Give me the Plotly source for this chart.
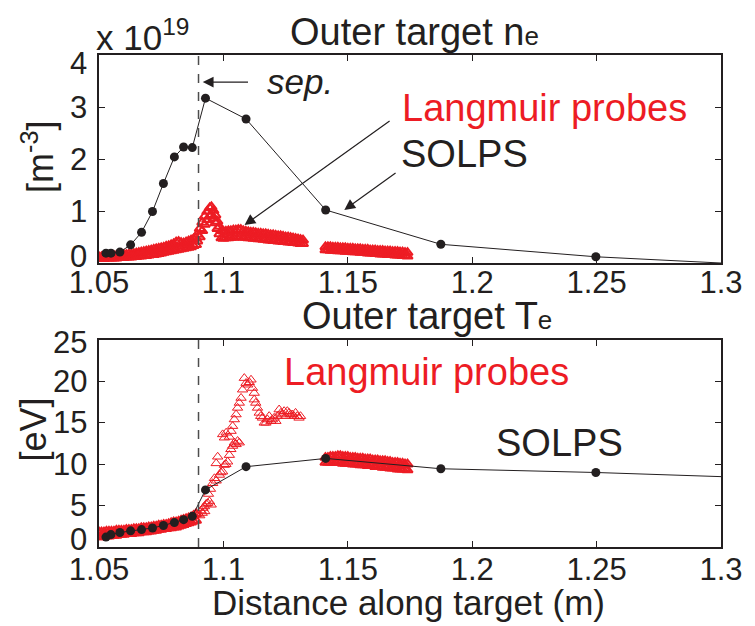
import plotly.graph_objects as go

# ---------------- data ----------------
SEP_X = 1.09

# SOLPS (black) grid and profiles
solps_x = [1.0528, 1.0548, 1.0584, 1.0627, 1.0671, 1.0715, 1.0759, 1.0803,
           1.0840, 1.0875, 1.0928, 1.1091, 1.1411, 1.1874, 1.2497, 1.3000]
solps_ne = [0.19, 0.19, 0.21, 0.35, 0.59, 0.99, 1.53, 2.04,
            2.23, 2.22, 3.17, 2.77, 1.02, 0.36, 0.12, 0.00]
solps_te = [1.2, 1.5, 1.75, 1.95, 2.1, 2.3, 2.6, 2.95,
            3.3, 3.7, 6.9, 9.7, 10.7, 9.45, 9.0, 8.5]

# Langmuir probes, segment A (private flux region side)
lp_x_a = [1.050, 1.051, 1.052, 1.053, 1.054, 1.055, 1.056, 1.057, 1.058, 1.059,
          1.060, 1.061, 1.062, 1.063, 1.064, 1.065, 1.066, 1.067, 1.068, 1.069,
          1.070, 1.071, 1.072, 1.073, 1.074, 1.075, 1.076, 1.077, 1.078, 1.079,
          1.080, 1.081, 1.082, 1.083, 1.084, 1.085, 1.086, 1.087, 1.088, 1.089]
lp_ne_a_hi = [0.12, 0.12, 0.13, 0.13, 0.13, 0.14, 0.14, 0.14, 0.15, 0.15,
              0.16, 0.16, 0.17, 0.17, 0.18, 0.19, 0.20, 0.21, 0.22, 0.23,
              0.24, 0.25, 0.26, 0.27, 0.28, 0.29, 0.30, 0.32, 0.33, 0.35,
              0.37, 0.40, 0.41, 0.39, 0.38, 0.40, 0.42, 0.44, 0.46, 0.48]
lp_ne_a_lo = [0.08, 0.08, 0.08, 0.09, 0.09, 0.09, 0.09, 0.09, 0.10, 0.10,
              0.10, 0.11, 0.11, 0.11, 0.12, 0.12, 0.13, 0.13, 0.14, 0.14,
              0.15, 0.16, 0.16, 0.17, 0.18, 0.19, 0.20, 0.21, 0.22, 0.23,
              0.24, 0.25, 0.26, 0.27, 0.28, 0.29, 0.30, 0.31, 0.33, 0.35]
lp_te_a_hi = [1.8, 1.8, 1.8, 1.9, 1.9, 1.9, 1.9, 2.0, 2.0, 2.0,
              2.0, 2.1, 2.1, 2.1, 2.2, 2.2, 2.2, 2.3, 2.3, 2.3,
              2.4, 2.4, 2.5, 2.5, 2.6, 2.6, 2.7, 2.7, 2.8, 2.9,
              3.0, 3.0, 3.1, 3.2, 3.3, 3.4, 3.5, 3.6, 3.8, 4.0]
lp_te_a_lo = [1.2, 1.2, 1.3, 1.3, 1.3, 1.4, 1.4, 1.4, 1.5, 1.5,
              1.5, 1.6, 1.6, 1.6, 1.7, 1.7, 1.7, 1.8, 1.8, 1.8,
              1.9, 1.9, 2.0, 2.0, 2.1, 2.1, 2.2, 2.2, 2.3, 2.3,
              2.4, 2.4, 2.5, 2.6, 2.7, 2.8, 2.9, 3.0, 3.1, 3.2]

# Langmuir probes, density peak near the separatrix
lp_x_pk = [1.0895, 1.0905, 1.0915, 1.0925, 1.0935, 1.0945, 1.0952, 1.0960,
           1.0968, 1.0976, 1.0984, 1.0992]
lp_ne_pk_hi = [0.55, 0.66, 0.78, 0.90, 0.99, 1.06, 1.08, 1.01, 0.92, 0.80, 0.70, 0.62]
lp_ne_pk_lo = [0.42, 0.50, 0.62, 0.74, 0.83, 0.90, 0.93, 0.86, 0.77, 0.66, 0.56, 0.48]

# Langmuir probes, segment B (ne)
lp_x_b = [1.100, 1.101, 1.102, 1.103, 1.104, 1.105, 1.106, 1.107, 1.108, 1.109,
          1.110, 1.111, 1.112, 1.113, 1.114, 1.115, 1.116, 1.117, 1.118, 1.119,
          1.120, 1.121, 1.122, 1.123, 1.124, 1.125, 1.126, 1.127, 1.128, 1.129,
          1.130, 1.131, 1.132]
lp_ne_b_hi = [0.61, 0.61, 0.62, 0.62, 0.63, 0.63, 0.64, 0.64, 0.62, 0.61,
              0.60, 0.59, 0.59, 0.58, 0.57, 0.57, 0.56, 0.56, 0.55, 0.54,
              0.54, 0.53, 0.52, 0.52, 0.51, 0.50, 0.50, 0.49, 0.48, 0.47,
              0.46, 0.45, 0.44]
lp_ne_b_lo = [0.47, 0.48, 0.48, 0.49, 0.49, 0.50, 0.50, 0.50, 0.49, 0.49,
              0.48, 0.48, 0.47, 0.47, 0.46, 0.46, 0.45, 0.45, 0.44, 0.44,
              0.43, 0.43, 0.42, 0.42, 0.41, 0.41, 0.40, 0.40, 0.39, 0.39,
              0.38, 0.37, 0.37]

# Langmuir probes, Te scattered points across the separatrix
lp_x_te_pk = [1.0900, 1.0905, 1.0910, 1.0915, 1.0918, 1.0924, 1.0925, 1.0931, 1.0937, 1.0944,
              1.0951, 1.0940, 1.0948, 1.0957, 1.0964, 1.0971, 1.0984, 1.0990, 1.0997, 1.1004,
              1.1010, 1.1017, 1.1024, 1.1030, 1.1037, 1.1044, 1.1051, 1.1057, 1.1064, 1.0971,
              1.0977, 1.0997, 1.1004, 1.1011, 1.1024, 1.1031, 1.1037, 1.1044, 1.1051, 1.1057,
              1.1064, 1.1071, 1.1077, 1.1084, 1.1091, 1.1098, 1.1104, 1.1111, 1.1117, 1.1124,
              1.1124, 1.1130, 1.1137, 1.1144, 1.1150, 1.1157, 1.1164, 1.1171, 1.1177, 1.1184,
              1.1191, 1.1197, 1.1204, 1.1211, 1.1217, 1.1224, 1.1231, 1.1237, 1.1244, 1.1250,
              1.1257, 1.1264, 1.1270, 1.1277, 1.1284, 1.1290, 1.1297, 1.1304, 1.1310]
lp_te_pk = [4.0, 3.8, 4.4, 4.1, 4.7, 4.9, 4.3, 5.2, 5.3, 5.5,
            5.1, 6.4, 7.0, 7.7, 8.3, 8.0, 8.7, 9.0, 9.1, 9.9,
            10.0, 10.3, 11.1, 11.8, 12.2, 12.6, 12.4, 12.8, 12.6, 10.1,
            10.9, 13.6, 13.2, 13.8, 13.3, 14.0, 14.6, 15.4, 16.0, 16.8,
            17.4, 18.0, 19.0, 20.4, 19.8, 19.6, 19.9, 20.2, 19.2, 18.6,
            17.8, 17.4, 16.8, 16.2, 15.8, 15.6, 15.0, 15.0, 15.4, 15.8,
            15.2, 15.4, 15.6, 15.2, 15.8, 16.6, 16.2, 16.0, 16.4, 15.8,
            16.4, 16.2, 16.0, 16.0, 15.8, 16.2, 15.8, 15.6, 15.8]

# Langmuir probes, segment C (far SOL)
lp_x_c = [1.141, 1.142, 1.143, 1.144, 1.145, 1.146, 1.147, 1.148, 1.149, 1.150,
          1.151, 1.152, 1.153, 1.154, 1.155, 1.156, 1.157, 1.158, 1.159, 1.160,
          1.161, 1.162, 1.163, 1.164, 1.165, 1.166, 1.167, 1.168, 1.169, 1.170,
          1.171, 1.172, 1.173, 1.174]
lp_ne_c_hi = [0.31, 0.31, 0.31, 0.30, 0.30, 0.30, 0.29, 0.29, 0.29, 0.28,
              0.28, 0.28, 0.27, 0.27, 0.27, 0.26, 0.26, 0.26, 0.25, 0.25,
              0.25, 0.24, 0.24, 0.24, 0.23, 0.23, 0.23, 0.22, 0.22, 0.22,
              0.21, 0.21, 0.20, 0.20]
lp_ne_c_lo = [0.25, 0.25, 0.24, 0.24, 0.24, 0.23, 0.23, 0.23, 0.22, 0.22,
              0.22, 0.21, 0.21, 0.21, 0.20, 0.20, 0.20, 0.19, 0.19, 0.19,
              0.18, 0.18, 0.17, 0.17, 0.17, 0.16, 0.16, 0.16, 0.15, 0.15,
              0.15, 0.14, 0.14, 0.13]
lp_te_c_hi = [10.8, 10.8, 10.9, 10.9, 10.9, 11.0, 11.0, 10.9, 10.9, 10.9,
              10.8, 10.8, 10.8, 10.7, 10.7, 10.7, 10.6, 10.6, 10.6, 10.5,
              10.5, 10.5, 10.4, 10.4, 10.4, 10.3, 10.3, 10.2, 10.2, 10.2,
              10.1, 10.1, 10.0, 10.0]
lp_te_c_lo = [10.2, 10.2, 10.2, 10.2, 10.2, 10.2, 10.2, 10.1, 10.1, 10.1,
              10.1, 10.0, 10.0, 10.0, 9.9, 9.9, 9.9, 9.8, 9.8, 9.8,
              9.7, 9.7, 9.7, 9.6, 9.6, 9.6, 9.5, 9.5, 9.5, 9.4,
              9.4, 9.4, 9.4, 9.3]

x_ticks = [1.05, 1.1, 1.15, 1.2, 1.25, 1.3]
x_ticklabels = ["1.05", "1.1", "1.15", "1.2", "1.25", "1.3"]
ne_ticks = [0, 1, 2, 3, 4]
te_ticks = [0, 5, 10, 15, 20, 25]

# ---------------- style ----------------
RED = "#ed1c24"
INK = "#231f20"
FONT = "Liberation Sans, Arial, sans-serif"
TICK_FONT = dict(family=FONT, size=31, color=INK)

ne_band_x = lp_x_a + lp_x_a + lp_x_pk + lp_x_pk + lp_x_b + lp_x_b + lp_x_c + lp_x_c
ne_band_y = (lp_ne_a_hi + lp_ne_a_lo + lp_ne_pk_hi + lp_ne_pk_lo +
             lp_ne_b_hi + lp_ne_b_lo + lp_ne_c_hi + lp_ne_c_lo)
te_band_x = lp_x_a + lp_x_a + lp_x_c + lp_x_c
te_band_y = lp_te_a_hi + lp_te_a_lo + lp_te_c_hi + lp_te_c_lo

tri_dense = dict(symbol="triangle-up-open", size=9, color=RED, line=dict(color=RED, width=2))
tri = dict(symbol="triangle-up-open", size=9, color=RED, line=dict(color=RED, width=1))
dot = dict(symbol="circle", size=9, color=INK)

fig = go.Figure()
fig.add_trace(go.Scatter(x=ne_band_x, y=ne_band_y, mode="markers", marker=tri_dense,
                         xaxis="x", yaxis="y", showlegend=False))
fig.add_trace(go.Scatter(x=solps_x, y=solps_ne, mode="lines",
                         line=dict(color=INK, width=1), xaxis="x", yaxis="y", showlegend=False))
fig.add_trace(go.Scatter(x=solps_x[:-1], y=solps_ne[:-1], mode="markers", marker=dot,
                         xaxis="x", yaxis="y", showlegend=False))
fig.add_trace(go.Scatter(x=te_band_x, y=te_band_y, mode="markers", marker=tri_dense,
                         xaxis="x2", yaxis="y2", showlegend=False))
fig.add_trace(go.Scatter(x=lp_x_te_pk, y=lp_te_pk, mode="markers", marker=tri,
                         xaxis="x2", yaxis="y2", showlegend=False))
fig.add_trace(go.Scatter(x=solps_x, y=solps_te, mode="lines",
                         line=dict(color=INK, width=1), xaxis="x2", yaxis="y2", showlegend=False))
fig.add_trace(go.Scatter(x=solps_x[:-1], y=solps_te[:-1], mode="markers", marker=dot,
                         xaxis="x2", yaxis="y2", showlegend=False))

axis_common = dict(showline=True, linecolor=INK, linewidth=1.5, mirror="allticks",
                   ticks="inside", ticklen=6, tickwidth=1, tickcolor=INK,
                   showgrid=False, zeroline=False, tickfont=TICK_FONT)

fig.update_layout(
    width=755, height=626,
    margin=dict(l=99, r=32, t=55, b=79),
    paper_bgcolor="white", plot_bgcolor="white",
    font=dict(family=FONT, color=INK),
    xaxis=dict(domain=[0, 1], anchor="y", range=[1.05, 1.3], tickvals=x_ticks,
               ticktext=x_ticklabels, ticklabelstandoff=-9, **axis_common),
    yaxis=dict(domain=[0.5772, 1], anchor="x", range=[0, 4], tickvals=ne_ticks,
               showticklabels=False, **axis_common),
    xaxis2=dict(domain=[0, 1], anchor="y2", range=[1.05, 1.3], tickvals=x_ticks,
                ticktext=x_ticklabels, ticklabelstandoff=-6, **axis_common),
    yaxis2=dict(domain=[0, 0.4207], anchor="x2", range=[0, 25], tickvals=te_ticks,
                showticklabels=False, **axis_common),
)

for yr in ("y", "y2"):
    xr = "x" if yr == "y" else "x2"
    fig.add_shape(type="line", xref=xr, yref=yr + " domain", x0=SEP_X, x1=SEP_X, y0=0, y1=1,
                  line=dict(color="#4d4d4d", width=1.5, dash="dash"))

big = dict(family=FONT, size=38, color=INK)
ann = []
# y tick labels (end labels nudged inward, as in the reference)
for xr, yr, vals in (("x domain", "y", ne_ticks), ("x2 domain", "y2", te_ticks)):
    for v in vals:
        shift = 7 if v == vals[0] else (-8 if (yr == "y" and v == vals[-1]) else (-2 if v == vals[-1] else 0))
        ann.append(dict(text=str(v), xref=xr, yref=yr, x=0, y=v, xanchor="right", yanchor="middle",
                        xshift=-10, yshift=shift, showarrow=False, font=TICK_FONT))
# titles
ann.append(dict(text="Outer target n<span style='font-size:26px'>e</span>", xref="x domain", yref="y domain",
                x=0.508, y=1, xanchor="center", yanchor="bottom", yshift=0, showarrow=False, font=big))
ann.append(dict(text="Outer target T<span style='font-size:26px'>e</span>", xref="x2 domain", yref="y2 domain",
                x=0.528, y=1, xanchor="center", yanchor="bottom", yshift=1, showarrow=False, font=big))
ann.append(dict(text="x 10<sup>19</sup>", xref="x domain", yref="y domain", x=-0.008, y=1,
                xanchor="left", yanchor="bottom", yshift=-4, showarrow=False,
                font=dict(family=FONT, size=35, color=INK)))
# y titles
ann.append(dict(text="[m<sup>-3</sup>]", xref="paper", yref="y domain", x=-0.098, y=0.51,
                xanchor="center", yanchor="middle", textangle=-90, showarrow=False,
                font=dict(family=FONT, size=36, color=INK)))
ann.append(dict(text="[eV]", xref="paper", yref="y2 domain", x=-0.105, y=0.566,
                xanchor="center", yanchor="middle", textangle=-90, showarrow=False,
                font=dict(family=FONT, size=36, color=INK)))
# x title
ann.append(dict(text="Distance along target (m)", xref="x2 domain", yref="paper", x=0.497, y=0,
                xanchor="center", yanchor="top", yshift=-34, showarrow=False,
                font=dict(family=FONT, size=35, color=INK)))
# top panel labels
ann.append(dict(text="<i>sep.</i>", xref="x", yref="y", x=1.1309, y=3.50, xanchor="center",
                yanchor="middle", showarrow=False, font=dict(family=FONT, size=35, color=INK)))
arrow = dict(showarrow=True, arrowhead=2, arrowsize=1.8, arrowwidth=1.2, arrowcolor=INK,
             standoff=0, axref="x", ayref="y")
ann.append(dict(text="", xref="x", yref="y", x=1.0917, y=3.48, ax=1.1105, ay=3.48, **arrow))
ann.append(dict(text="Langmuir probes", xref="x", yref="y", x=1.2291, y=2.98, xanchor="center",
                yanchor="middle", showarrow=False, font=dict(family=FONT, size=38, color=RED)))
ann.append(dict(text="SOLPS", xref="x", yref="y", x=1.197, y=2.10, xanchor="center",
                yanchor="middle", showarrow=False, font=big))
ann.append(dict(text="", xref="x", yref="y", x=1.1085, y=0.73, ax=1.1674, ay=2.75, **arrow))
ann.append(dict(text="", xref="x", yref="y", x=1.1486, y=1.02, ax=1.1698, ay=1.75, **arrow))
# bottom panel labels
ann.append(dict(text="Langmuir probes", xref="x2", yref="y2", x=1.1818, y=21.1, xanchor="center",
                yanchor="middle", showarrow=False, font=dict(family=FONT, size=38, color=RED)))
ann.append(dict(text="SOLPS", xref="x2", yref="y2", x=1.2351, y=12.6, xanchor="center",
                yanchor="middle", showarrow=False, font=big))
fig.update_layout(annotations=ann)

fig.write_html("out.html")
